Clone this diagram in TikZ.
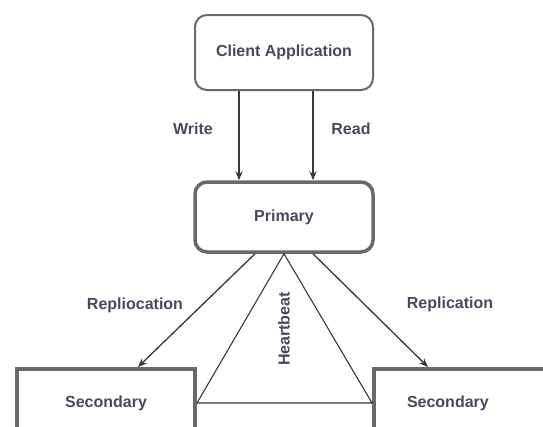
\documentclass[tikz,border=0pt]{standalone}
\usepackage{fontspec}
\setmainfont{Liberation Sans}
\usepackage{tikz}
\usetikzlibrary{arrows.meta}
\definecolor{boxgray}{RGB}{105,105,105}
\definecolor{linegray}{RGB}{55,55,55}
\definecolor{labelink}{RGB}{78,70,92}
\tikzset{>={Stealth[length=9pt,width=7pt]}}
\tikzset{%
    roundbox/.style={draw=boxgray, line width=2pt, rounded corners=12pt,
        minimum width=178pt, minimum height=#1, text=labelink},
    squarebox/.style={draw=boxgray, line width=4pt, minimum height=68pt,
        text=labelink},
    link/.style={draw=linegray, line width=1.3pt},
    tag/.style={text=labelink}
}

\begin{document}
\begin{tikzpicture}[x=1pt,y=-1pt,font=\fontsize{16}{19}\selectfont\bfseries]
\useasboundingbox (0,0) rectangle (543,426);
\clip (0,0) rectangle (543,426);

\node[roundbox=75pt] (client) at (284,52.5) {Client Application};
\node[roundbox=70pt, line width=3.5pt] (primary) at (284,217) {Primary};

\node[squarebox, minimum width=178pt] (sec1) at (106,403) {Secondary};
\node[squarebox, anchor=west, text width=150pt, align=left, inner xsep=33pt]
    (sec2) at (372,403) {Secondary};

% write and read between client and primary
\draw[link,->] (client.south -| 239,0) -- (primary.north -| 239,0);
\draw[link,->] (client.south -| 313,0) -- (primary.north -| 313,0);
\node[tag] (write) at (193,129) {Write};
\node[tag] (read) at (351,129) {Read};

% replication to the secondaries
\draw[link,->] (primary.south -| 255,0) -- (sec1.north -| 138,0);
\draw[link,->] (primary.south -| 313,0) -- (sec2.north -| 428,0);
\node[tag] (rep1) at (135,305) {Repliocation};
\node[tag] (rep2) at (450,304) {Replication};

% heartbeat triangle
\draw[link, line width=1.1pt] (sec1.east) -- (primary.south) -- (sec2.west) -- cycle;
\node[tag, rotate=90] (beat) at (284,329) {Heartbeat};
\end{tikzpicture}
\end{document}
